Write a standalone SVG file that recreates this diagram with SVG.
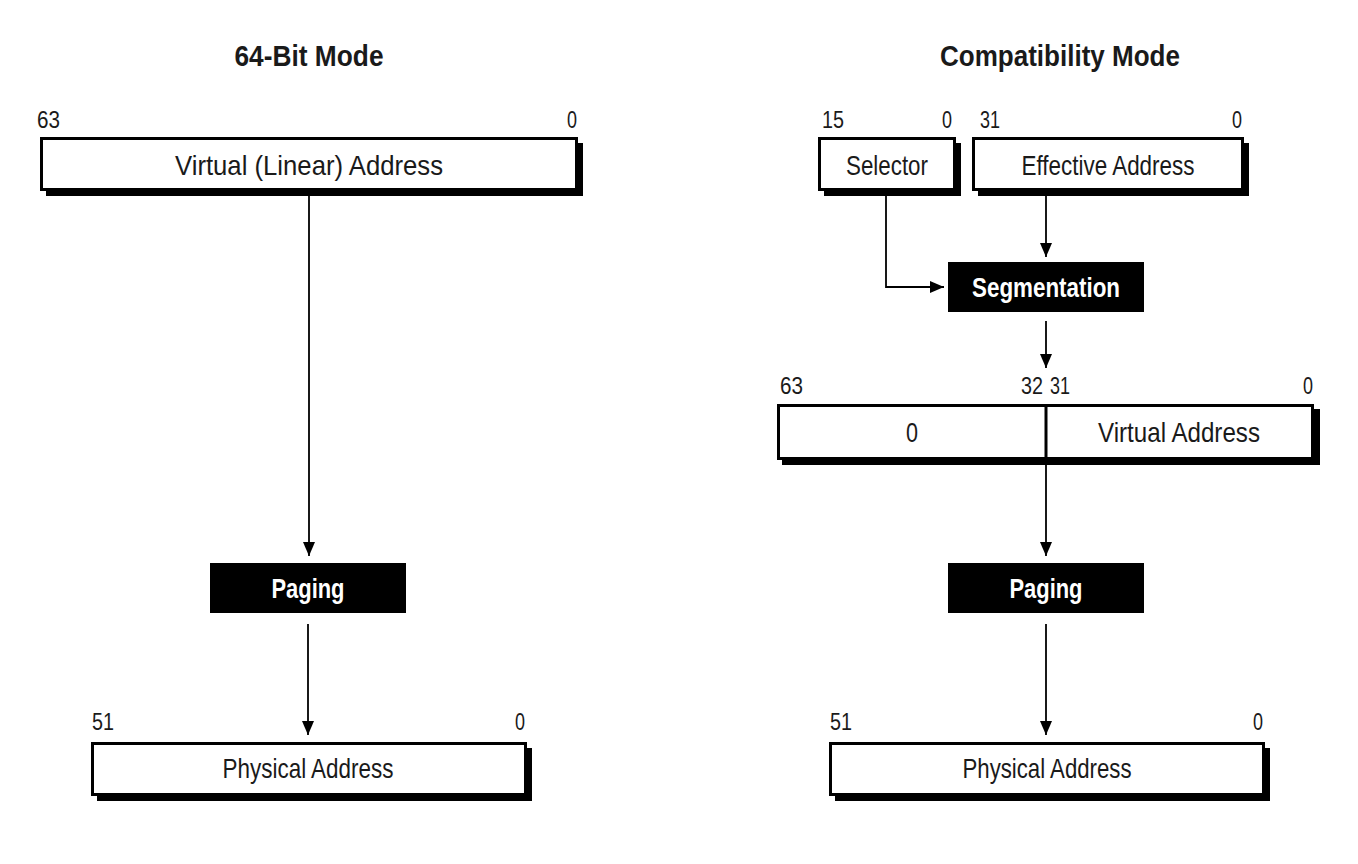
<svg xmlns="http://www.w3.org/2000/svg" width="1358" height="864" viewBox="0 0 1358 864">
<style>
.box{fill:#fff;stroke:#000;stroke-width:3}
.sh{fill:#000}
.blk{fill:#000}
.t{font-family:"Liberation Sans",Arial,sans-serif;fill:#1a1a1a}
.title{font-size:29px;font-weight:bold;text-anchor:middle}
.lbl{font-size:23px}
.bt{font-size:28px;text-anchor:middle}
.wt{font-family:"Liberation Sans",Arial,sans-serif;font-size:28px;font-weight:bold;fill:#fff;text-anchor:middle}
.con{fill:none;stroke:#000;stroke-width:1.8}
</style>
<defs>
<marker id="arr" viewBox="0 0 14 12" refX="14" refY="6" markerWidth="14" markerHeight="12" markerUnits="userSpaceOnUse" orient="auto">
<path d="M0,0 L14,6 L0,12 z" fill="#000"/>
</marker>
</defs>
<rect width="1358" height="864" fill="#fff"/>

<g id="title-64">
<text class="t title" x="309" y="66" textLength="149" lengthAdjust="spacingAndGlyphs">64-Bit Mode</text>
</g>
<g id="title-compat">
<text class="t title" x="1060" y="66" textLength="240" lengthAdjust="spacingAndGlyphs">Compatibility Mode</text>
</g>

<g id="virtual-linear">
<rect class="sh" x="46" y="143" width="537" height="53"/>
<rect class="box" x="41.5" y="138.5" width="535" height="51"/>
<text class="t lbl" x="37" y="128" textLength="23" lengthAdjust="spacingAndGlyphs">63</text>
<text class="t lbl" x="577" y="128" text-anchor="end" textLength="10" lengthAdjust="spacingAndGlyphs">0</text>
<text class="t bt" x="309" y="175" textLength="268" lengthAdjust="spacingAndGlyphs">Virtual (Linear) Address</text>
</g>

<g id="paging-left">
<rect class="blk" x="210" y="563" width="196" height="50"/>
<text class="wt" x="308" y="598" textLength="73" lengthAdjust="spacingAndGlyphs">Paging</text>
</g>

<g id="physical-left">
<rect class="sh" x="97" y="748" width="435" height="53"/>
<rect class="box" x="92.5" y="743.5" width="433" height="51"/>
<text class="t lbl" x="92" y="730" textLength="22" lengthAdjust="spacingAndGlyphs">51</text>
<text class="t lbl" x="525" y="730" text-anchor="end" textLength="10" lengthAdjust="spacingAndGlyphs">0</text>
<text class="t bt" x="308" y="778" textLength="171" lengthAdjust="spacingAndGlyphs">Physical Address</text>
</g>

<g id="selector">
<rect class="sh" x="824" y="143" width="137" height="53"/>
<rect class="box" x="819.5" y="138.5" width="135" height="51"/>
<text class="t lbl" x="822" y="128" textLength="22" lengthAdjust="spacingAndGlyphs">15</text>
<text class="t lbl" x="952" y="128" text-anchor="end" textLength="10" lengthAdjust="spacingAndGlyphs">0</text>
<text class="t bt" x="887" y="175" textLength="82" lengthAdjust="spacingAndGlyphs">Selector</text>
</g>

<g id="effective">
<rect class="sh" x="978" y="143" width="271" height="53"/>
<rect class="box" x="973.5" y="138.5" width="269" height="51"/>
<text class="t lbl" x="980" y="128" textLength="20" lengthAdjust="spacingAndGlyphs">31</text>
<text class="t lbl" x="1242" y="128" text-anchor="end" textLength="10" lengthAdjust="spacingAndGlyphs">0</text>
<text class="t bt" x="1108" y="175" textLength="173" lengthAdjust="spacingAndGlyphs">Effective Address</text>
</g>

<g id="segmentation">
<rect class="blk" x="948" y="262" width="196" height="50"/>
<text class="wt" x="1046" y="297" textLength="148" lengthAdjust="spacingAndGlyphs">Segmentation</text>
</g>

<g id="virtual-64">
<rect class="sh" x="782" y="409" width="538" height="56"/>
<rect class="box" x="778.5" y="405.5" width="534" height="53"/>
<line x1="1046" y1="405" x2="1046" y2="459" stroke="#000" stroke-width="3"/>
<text class="t lbl" x="780" y="394" textLength="23" lengthAdjust="spacingAndGlyphs">63</text>
<text class="t lbl" x="1043" y="394" text-anchor="end" textLength="22" lengthAdjust="spacingAndGlyphs">32</text>
<text class="t lbl" x="1050" y="394" textLength="20" lengthAdjust="spacingAndGlyphs">31</text>
<text class="t lbl" x="1313" y="394" text-anchor="end" textLength="10" lengthAdjust="spacingAndGlyphs">0</text>
<text class="t bt" x="912" y="442" textLength="12" lengthAdjust="spacingAndGlyphs">0</text>
<text class="t bt" x="1179" y="442" textLength="162" lengthAdjust="spacingAndGlyphs">Virtual Address</text>
</g>

<g id="paging-right">
<rect class="blk" x="948" y="563" width="196" height="50"/>
<text class="wt" x="1046" y="598" textLength="73" lengthAdjust="spacingAndGlyphs">Paging</text>
</g>

<g id="physical-right">
<rect class="sh" x="835" y="748" width="435" height="53"/>
<rect class="box" x="830.5" y="743.5" width="433" height="51"/>
<text class="t lbl" x="830" y="730" textLength="22" lengthAdjust="spacingAndGlyphs">51</text>
<text class="t lbl" x="1263" y="730" text-anchor="end" textLength="10" lengthAdjust="spacingAndGlyphs">0</text>
<text class="t bt" x="1047" y="778" textLength="169" lengthAdjust="spacingAndGlyphs">Physical Address</text>
</g>

<g id="connectors">
<path class="con" d="M309,191 V556" marker-end="url(#arr)"/>
<path class="con" d="M308,624 V735" marker-end="url(#arr)"/>
<path class="con" d="M1046,191 V257" marker-end="url(#arr)"/>
<path class="con" d="M886,191 V287 H944" marker-end="url(#arr)"/>
<path class="con" d="M1046,321 V368" marker-end="url(#arr)"/>
<path class="con" d="M1046,460 V556" marker-end="url(#arr)"/>
<path class="con" d="M1046,624 V735" marker-end="url(#arr)"/>
</g>
</svg>
